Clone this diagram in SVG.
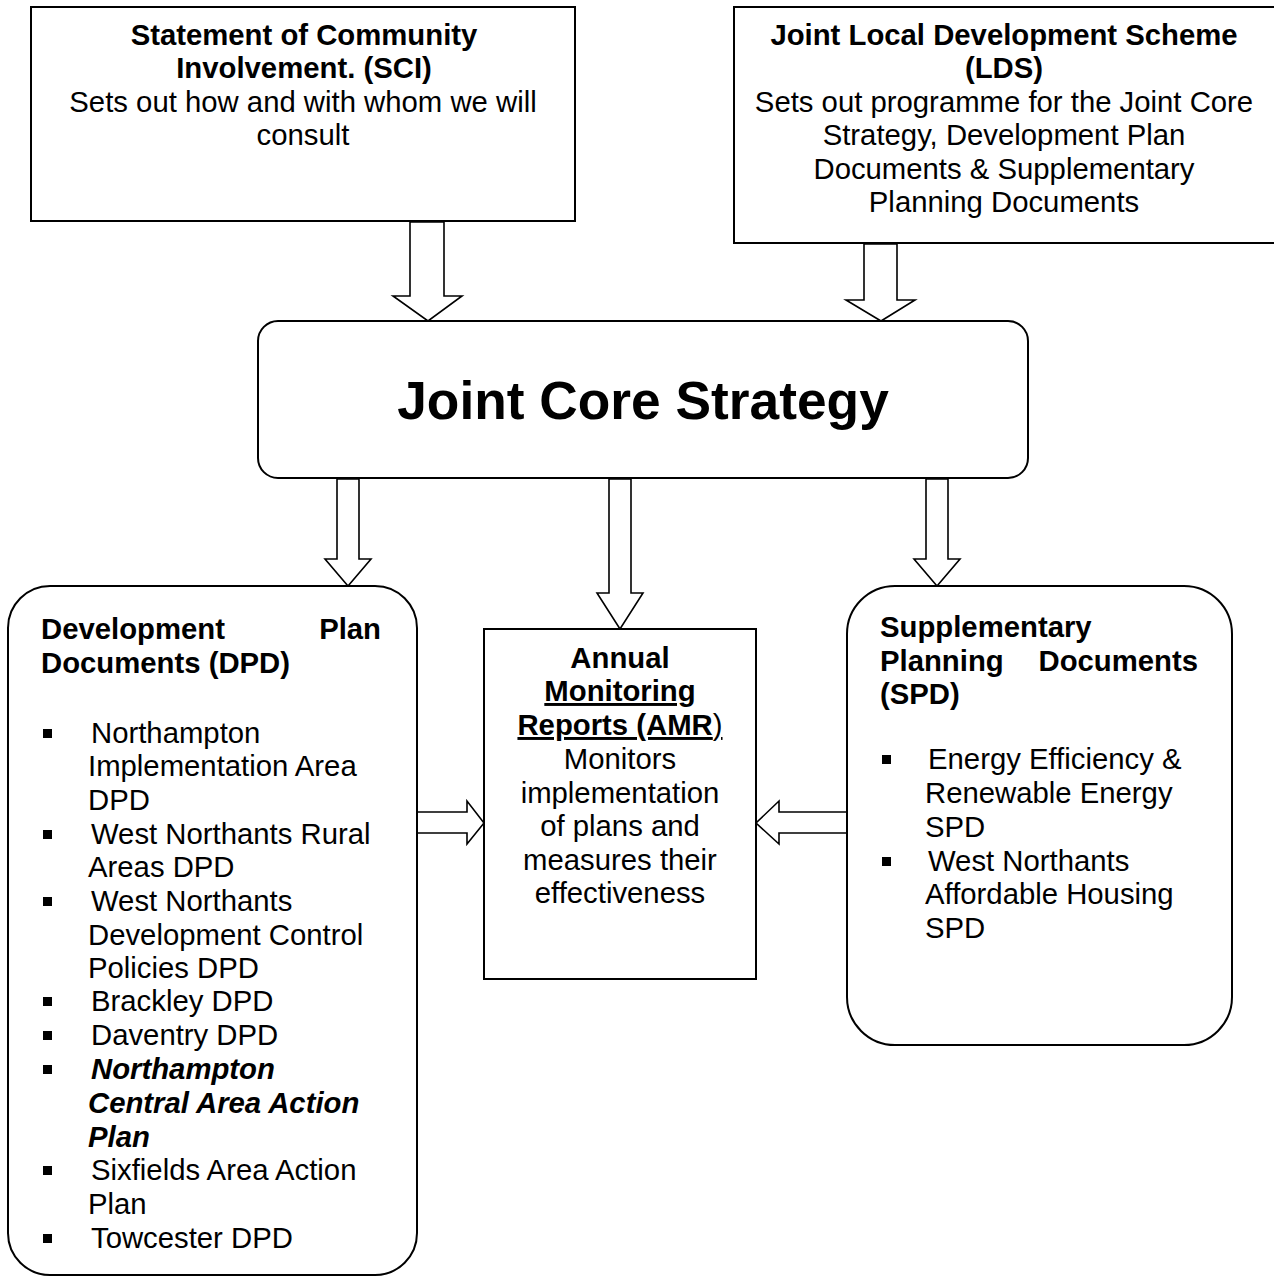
<svg xmlns="http://www.w3.org/2000/svg" width="1274" height="1277" viewBox="0 0 1274 1277">
<style>
  .box { fill: #fff; stroke: #000; stroke-width: 2; }
  .arrow { fill: #fff; stroke: #000; stroke-width: 1.6; stroke-linejoin: miter; }
  text { font-family: "Liberation Sans", Arial, sans-serif; font-size: 29.3px; fill: #000; }
  .b { font-weight: bold; }
  .c { text-anchor: middle; }
  .bul { fill: #000; }
</style>
<rect width="1274" height="1277" fill="#fff"/>

<g id="connectors">
  <polygon class="arrow" points="410,222 444,222 444,296 462,296 428,321 393,296 410,296"/>
  <polygon class="arrow" points="864,244 897,244 897,300 915,300 881,321 846,300 864,300"/>
  <polygon class="arrow" points="337,479 359,479 359,559 371,559 348,586 325,559 337,559"/>
  <polygon class="arrow" points="609,479 631,479 631,593 643,593 620,629 597,593 609,593"/>
  <polygon class="arrow" points="926,479 948,479 948,559 960,559 937,586 914,559 926,559"/>
  <polygon class="arrow" points="417,812 467,812 467,801 484,823 467,844 467,833 417,833"/>
  <polygon class="arrow" points="847,812 779,812 779,801 756,823 779,844 779,833 847,833"/>
</g>

<g id="sci">
  <rect class="box" x="31" y="7" width="544" height="214"/>
  <text class="b c" x="304" y="45">Statement of Community</text>
  <text class="b c" x="304" y="78">Involvement. (SCI)</text>
  <text class="c" x="303" y="112">Sets out how and with whom we will</text>
  <text class="c" x="303" y="145">consult</text>
</g>

<g id="lds">
  <rect class="box" x="734" y="7" width="560" height="236"/>
  <text class="b c" x="1004" y="45">Joint Local Development Scheme</text>
  <text class="b c" x="1004" y="78">(LDS)</text>
  <text class="c" x="1004" y="112">Sets out programme for the Joint Core</text>
  <text class="c" x="1004" y="145">Strategy, Development Plan</text>
  <text class="c" x="1004" y="179">Documents &amp; Supplementary</text>
  <text class="c" x="1004" y="212">Planning Documents</text>
</g>

<g id="jcs">
  <rect class="box" x="258" y="321" width="770" height="157" rx="20" ry="20"/>
  <text class="b c" x="643" y="419" style="font-size:53.3px">Joint Core Strategy</text>
</g>

<g id="dpd">
  <rect class="box" x="8" y="586" width="409" height="689" rx="42" ry="42"/>
  <text class="b" x="41" y="639">Development</text>
  <text class="b" x="381" y="639" text-anchor="end">Plan</text>
  <text class="b" x="41" y="673">Documents (DPD)</text>
  <rect class="bul" x="43" y="729" width="9" height="9"/>
  <text x="91" y="743">Northampton</text>
  <text x="88" y="776">Implementation Area</text>
  <text x="88" y="810">DPD</text>
  <rect class="bul" x="43" y="830" width="9" height="9"/>
  <text x="91" y="844">West Northants Rural</text>
  <text x="88" y="877">Areas DPD</text>
  <rect class="bul" x="43" y="897" width="9" height="9"/>
  <text x="91" y="911">West Northants</text>
  <text x="88" y="945">Development Control</text>
  <text x="88" y="978">Policies DPD</text>
  <rect class="bul" x="43" y="997" width="9" height="9"/>
  <text x="91" y="1011">Brackley DPD</text>
  <rect class="bul" x="43" y="1031" width="9" height="9"/>
  <text x="91" y="1045">Daventry DPD</text>
  <rect class="bul" x="43" y="1065" width="9" height="9"/>
  <text class="b" x="91" y="1079" font-style="italic">Northampton</text>
  <text class="b" x="88" y="1113" font-style="italic">Central Area Action</text>
  <text class="b" x="88" y="1147" font-style="italic">Plan</text>
  <rect class="bul" x="43" y="1166" width="9" height="9"/>
  <text x="91" y="1180">Sixfields Area Action</text>
  <text x="88" y="1214">Plan</text>
  <rect class="bul" x="43" y="1234" width="9" height="9"/>
  <text x="91" y="1248">Towcester DPD</text>
</g>

<g id="amr">
  <rect class="box" x="484" y="629" width="272" height="350"/>
  <text class="b c" x="620" y="668">Annual</text>
  <text class="b c" x="620" y="701" text-decoration="underline">Monitoring</text>
  <text class="c" x="620" y="735" text-decoration="underline"><tspan class="b">Reports (AMR</tspan>)</text>
  <text class="c" x="620" y="769">Monitors</text>
  <text class="c" x="620" y="803">implementation</text>
  <text class="c" x="620" y="836">of plans and</text>
  <text class="c" x="620" y="870">measures their</text>
  <text class="c" x="620" y="903">effectiveness</text>
</g>

<g id="spd">
  <rect class="box" x="847" y="586" width="385" height="459" rx="48" ry="48"/>
  <text class="b" x="880" y="637">Supplementary</text>
  <text class="b" x="880" y="671">Planning</text>
  <text class="b" x="1198" y="671" text-anchor="end">Documents</text>
  <text class="b" x="880" y="704">(SPD)</text>
  <rect class="bul" x="882" y="755" width="9" height="9"/>
  <text x="928" y="769">Energy Efficiency &amp;</text>
  <text x="925" y="803">Renewable Energy</text>
  <text x="925" y="837">SPD</text>
  <rect class="bul" x="882" y="857" width="9" height="9"/>
  <text x="928" y="871">West Northants</text>
  <text x="925" y="904">Affordable Housing</text>
  <text x="925" y="938">SPD</text>
</g>
</svg>
